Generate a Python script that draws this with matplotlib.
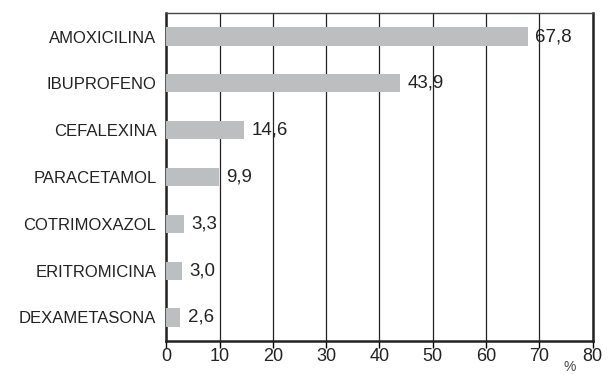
import numpy as np
import matplotlib.pyplot as plt

plt.rcParams['font.family'] = ['Liberation Sans', 'DejaVu Sans']

drugs = ['AMOXICILINA', 'IBUPROFENO', 'CEFALEXINA', 'PARACETAMOL',
         'COTRIMOXAZOL', 'ERITROMICINA', 'DEXAMETASONA']
pct = [67.8, 43.9, 14.6, 9.9, 3.3, 3.0, 2.6]
xticks = [0, 10, 20, 30, 40, 50, 60, 70, 80]

fig = plt.figure(figsize=(6.11, 3.75), dpi=100)
ax = fig.add_axes([0.272, 0.091, 0.698, 0.874])

y = np.arange(len(drugs))[::-1]
ax.barh(y, pct, height=0.39, color='#bcbec0', zorder=3)
for yi, v in zip(y, pct):
    ax.text(v + 1.4, yi, f'{v:.1f}'.replace('.', ','), va='center', ha='left',
            fontsize=13.5, color='#222222', zorder=4)

ax.set_xlim(0, 80)
ax.set_ylim(-0.5, 6.5)
ax.set_xticks(xticks)
ax.set_yticks(y)
ax.set_yticklabels(drugs, fontsize=12, color='#222222')
ax.tick_params(axis='y', length=0, pad=7)
ax.tick_params(axis='x', direction='out', length=5, width=1, labelsize=13,
               labelcolor='#222222', pad=0)
ax.xaxis.grid(True, color='#222222', linewidth=0.9, zorder=1)
for s in ['left', 'bottom', 'right']:
    ax.spines[s].set_linewidth(1.8)
    ax.spines[s].set_color('#222222')
ax.spines['top'].set_linewidth(1.0)
ax.spines['top'].set_color('#444444')

fig.text(0.933, 0.003, '%', fontsize=10, color='#444444', ha='center', va='bottom')

fig.savefig('out.png', dpi=100)
